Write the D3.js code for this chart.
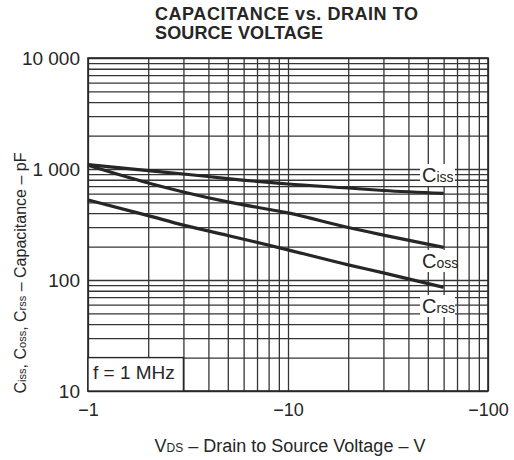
<!DOCTYPE html>
<html>
<head>
<meta charset="utf-8">
<script src="https://cdn.jsdelivr.net/npm/d3@7"></script>
<style>
  body { margin: 0; background: #fff; }
  text { font-family: "Liberation Sans", Arial, sans-serif; fill: #262626; }
  .grid line { stroke: #353535; stroke-width: 1.3; }
  .grid path { display: none; }
</style>
</head>
<body>
<script>
// values (VDS shown as negative volts, plotted by magnitude)
var vds  = [1, 2, 3, 5, 10, 20, 30, 60];
var ciss = [1094, 966, 902, 820, 733, 674, 640, 604];
var coss = [1080, 748, 621, 505, 402, 297, 254, 197];
var crss = [526, 380, 312, 252, 187, 137, 116, 86];

var xTicks = [1, 10, 100];
var yTicks = [10, 100, 1000, 10000];
var yTickLabels = ["10", "100", "1 000", "10 000"];
var xTickLabels = ["\u22121", "\u221210", "\u2212100"];

var W = 514, H = 460;
var margin = {top: 58, right: 26, bottom: 69, left: 88};
var width  = W - margin.left - margin.right;
var height = H - margin.top - margin.bottom;

var svg = d3.select("body").append("svg")
    .attr("width", W)
    .attr("height", H);

var x = d3.scaleLog().domain([1, 100]).range([0, width]);
var y = d3.scaleLog().domain([10, 10000]).range([height, 0]);

// all 1..9 per decade grid values
var gridX = [], gridY = [];
[1, 10].forEach(function(d) { for (var k = 1; k < 10; k++) gridX.push(d * k); });
gridX.push(100);
[10, 100, 1000].forEach(function(d) { for (var k = 1; k < 10; k++) gridY.push(d * k); });
gridY.push(10000);

// Title (stretched to the width it has in the original)
svg.append("text")
    .attr("x", 155).attr("y", 20)
    .attr("textLength", 263).attr("lengthAdjust", "spacing")
    .style("font-size", "18px").style("font-weight", "bold")
    .text("CAPACITANCE vs. DRAIN TO");
svg.append("text")
    .attr("x", 155).attr("y", 39)
    .attr("textLength", 168).attr("lengthAdjust", "spacing")
    .style("font-size", "18px").style("font-weight", "bold")
    .text("SOURCE VOLTAGE");

var g = svg.append("g")
    .attr("transform", "translate(" + margin.left + "," + margin.top + ")");

// grid
g.append("g").attr("class", "grid")
    .attr("transform", "translate(0," + height + ")")
    .call(d3.axisBottom(x).tickValues(gridX).tickSize(-height).tickFormat(""));
g.append("g").attr("class", "grid")
    .call(d3.axisLeft(y).tickValues(gridY).tickSize(-width).tickFormat(""));

// frame
g.append("rect")
    .attr("width", width).attr("height", height)
    .attr("fill", "none").attr("stroke", "#262626").attr("stroke-width", 1.6);

// f = 1 MHz box
g.append("rect")
    .attr("x", x(1)).attr("y", y(20))
    .attr("width", x(3) - x(1)).attr("height", y(10) - y(20))
    .attr("fill", "#fff").attr("stroke", "#262626").attr("stroke-width", 1.4);
g.append("text")
    .attr("x", x(1) + 5).attr("y", y(10) - 12)
    .style("font-size", "19px")
    .text("f = 1 MHz");

// axes labels
var ya = g.append("g")
    .call(d3.axisLeft(y).tickValues(yTicks).tickSize(0).tickPadding(8)
      .tickFormat(function(d, i) { return yTickLabels[i]; }));
ya.select(".domain").remove();
ya.selectAll("text").style("font-size", "19px").style("font-family", "'Liberation Sans', Arial, sans-serif").attr("fill", "#262626");

var xa = g.append("g")
    .attr("transform", "translate(0," + height + ")")
    .call(d3.axisBottom(x).tickValues(xTicks).tickSize(0).tickPadding(12)
      .tickFormat(function(d, i) { return xTickLabels[i]; }));
xa.select(".domain").remove();
xa.selectAll("text").style("font-size", "18px").style("font-family", "'Liberation Sans', Arial, sans-serif").attr("fill", "#262626");

// curves
var line = d3.line()
    .x(function(d) { return x(d[0]); })
    .y(function(d) { return y(d[1]); })
    .curve(d3.curveMonotoneX);

[ciss, coss, crss].forEach(function(s) {
  g.append("path")
      .datum(vds.map(function(v, i) { return [v, s[i]]; }))
      .attr("d", line)
      .attr("fill", "none")
      .attr("stroke", "#262626")
      .attr("stroke-width", 3.2);
});

// curve labels with white backing
var curveLabels = [
  {sub: "iss", y: 182},
  {sub: "oss", y: 268},
  {sub: "rss", y: 313}
];
curveLabels.forEach(function(l) {
  var by = l.y - margin.top;
  g.append("rect")
      .attr("x", 420 - margin.left).attr("y", by - 18)
      .attr("width", 35).attr("height", 22)
      .attr("fill", "#fff");
  var t = g.append("text")
      .attr("x", 422 - margin.left).attr("y", by);
  t.append("tspan").style("font-size", "20px").text("C");
  t.append("tspan").style("font-size", "14px").text(l.sub);
});

// x axis title
var xt = svg.append("text")
    .attr("x", 290).attr("y", 452)
    .attr("text-anchor", "middle");
xt.append("tspan").style("font-size", "18px").text("V");
xt.append("tspan").style("font-size", "12px").text("DS");
xt.append("tspan").style("font-size", "18px").text(" \u2013 Drain to Source Voltage \u2013 V");

// y axis title
var yt = svg.append("text")
    .attr("transform", "translate(26,273) rotate(-90)")
    .attr("text-anchor", "middle");
[["C", "iss", ", "], ["C", "oss", ", "], ["C", "rss", " \u2013 Capacitance \u2013 pF"]].forEach(function(p) {
  yt.append("tspan").style("font-size", "16px").text(p[0]);
  yt.append("tspan").style("font-size", "11px").text(p[1]);
  yt.append("tspan").style("font-size", "16px").text(p[2]);
});
</script>
</body>
</html>
